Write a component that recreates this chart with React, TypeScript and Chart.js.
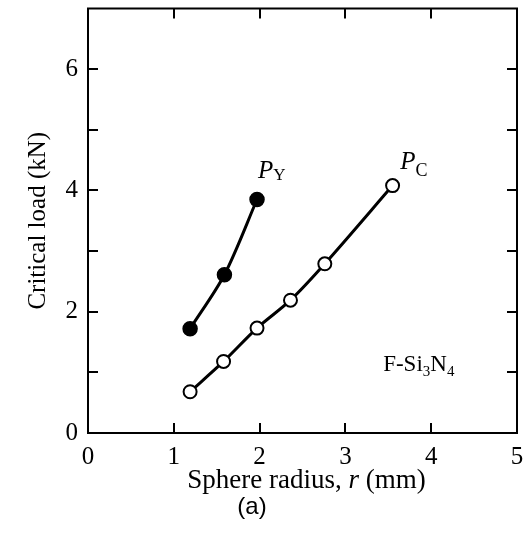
import React, { useEffect, useRef } from "react";
import { Chart, registerables } from "chart.js";

Chart.register(...registerables);

// Data
const radiusPY = [1.19, 1.59, 1.97];
const loadPY = [1.72, 2.61, 3.85];
const radiusPC = [1.19, 1.58, 1.97, 2.36, 2.76, 3.55];
const loadPC = [0.68, 1.18, 1.73, 2.19, 2.79, 4.08];

const xTicks = [0, 1, 2, 3, 4, 5];
const yTicks = [0, 1, 2, 3, 4, 5, 6, 7];
const yLabelValues = [0, 2, 4, 6];

const xTitleParts = ["Sphere radius, ", "r", " (mm)"];
const yTitle = "Critical load (kN)";
const panelLabel = "(a)";

const SERIF = "'Liberation Serif', 'Times New Roman', serif";
const SANS = "'Liberation Sans', Arial, sans-serif";

const decorPlugin = {
  id: "decor",
  afterDraw(chart: any) {
    const ctx = chart.ctx as CanvasRenderingContext2D;
    const xs = chart.scales.x;
    const ys = chart.scales.y;
    const { left, right, top, bottom } = chart.chartArea;
    ctx.save();
    ctx.strokeStyle = "#000";
    ctx.lineWidth = 2;
    ctx.strokeRect(left, top, right - left, bottom - top);
    // inward ticks
    const tl = 10;
    ctx.beginPath();
    xTicks.forEach((v) => {
      if (v <= xs.min || v >= xs.max) return;
      const px = Math.round(xs.getPixelForValue(v));
      ctx.moveTo(px, bottom);
      ctx.lineTo(px, bottom - tl);
      ctx.moveTo(px, top);
      ctx.lineTo(px, top + tl);
    });
    yTicks.forEach((v) => {
      if (v <= ys.min || v >= ys.max) return;
      const py = Math.round(ys.getPixelForValue(v));
      ctx.moveTo(left, py);
      ctx.lineTo(left + tl, py);
      ctx.moveTo(right, py);
      ctx.lineTo(right - tl, py);
    });
    ctx.stroke();

    ctx.fillStyle = "#000";
    ctx.textBaseline = "alphabetic";
    const run = (x: number, y: number, segs: [string, string, number][]) => {
      let cx = x;
      segs.forEach(([t, f, dy]) => {
        ctx.font = f;
        ctx.textAlign = "left";
        ctx.fillText(t, cx, y + dy);
        cx += ctx.measureText(t).width;
      });
      return cx - x;
    };
    // P_Y label
    run(xs.getPixelForValue(1.98), ys.getPixelForValue(4.2), [
      ["P", `italic 25px ${SERIF}`, 0],
      ["Y", `17px ${SERIF}`, 2],
    ]);
    // P_C label
    run(xs.getPixelForValue(3.64), ys.getPixelForValue(4.35), [
      ["P", `italic 25px ${SERIF}`, 0],
      ["C", `18px ${SERIF}`, 7],
    ]);
    // F-Si3N4
    run(xs.getPixelForValue(3.44), ys.getPixelForValue(1.03), [
      ["F-Si", `23px ${SERIF}`, 0],
      ["3", `15px ${SERIF}`, 5],
      ["N", `23px ${SERIF}`, 0],
      ["4", `15px ${SERIF}`, 5],
    ]);

    // x axis title with italic r
    const fonts = [`27px ${SERIF}`, `italic 27px ${SERIF}`, `27px ${SERIF}`];
    let w = 0;
    xTitleParts.forEach((t, i) => {
      ctx.font = fonts[i];
      w += ctx.measureText(t).width;
    });
    const cx = (left + right) / 2 + 4;
    run(cx - w / 2, 488, xTitleParts.map((t, i) => [t, fonts[i], 0] as [string, string, number]));

    // panel label
    ctx.font = `24px ${SANS}`;
    ctx.textAlign = "center";
    ctx.fillText(panelLabel, 252, 514);
    ctx.restore();
  },
};

export default function App() {
  const ref = useRef<HTMLCanvasElement>(null);
  useEffect(() => {
    document.body.style.margin = "0";
    const chart = new Chart(ref.current!, {
      type: "scatter",
      data: {
        datasets: [
          {
            label: "PY",
            data: radiusPY.map((x, i) => ({ x, y: loadPY[i] })),
            showLine: true,
            tension: 0.3,
            borderColor: "#000",
            borderWidth: 3,
            pointRadius: 7,
            pointBackgroundColor: "#000",
            pointBorderColor: "#000",
            pointBorderWidth: 1.5,
          },
          {
            label: "PC",
            data: radiusPC.map((x, i) => ({ x, y: loadPC[i] })),
            showLine: true,
            tension: 0.3,
            borderColor: "#000",
            borderWidth: 3,
            pointRadius: 6.5,
            pointBackgroundColor: "#fff",
            pointBorderColor: "#000",
            pointBorderWidth: 2,
          },
        ],
      },
      options: {
        responsive: false,
        animation: false,
        devicePixelRatio: 1,
        layout: { padding: { left: 0, right: 14, top: 6, bottom: 0 } },
        plugins: { legend: { display: false }, tooltip: { enabled: false } },
        scales: {
          x: {
            type: "linear",
            min: 0,
            max: 5,
            grid: { display: false, drawTicks: false },
            border: { display: false },
            afterBuildTicks: (s: any) => {
              s.ticks = xTicks.map((v) => ({ value: v }));
            },
            afterFit: (s: any) => {
              s.height = 113;
              s.paddingLeft = 0;
              s.paddingRight = 0;
            },
            ticks: {
              color: "#000",
              padding: 9,
              maxRotation: 0,
              font: { family: SERIF, size: 25 },
            },
          },
          y: {
            type: "linear",
            min: 0,
            max: 7,
            grid: { display: false, drawTicks: false },
            border: { display: false },
            afterBuildTicks: (s: any) => {
              s.ticks = yLabelValues.map((v) => ({ value: v }));
            },
            afterFit: (s: any) => {
              s.width = 88;
              s.paddingTop = 0;
              s.paddingBottom = 0;
            },
            title: {
              display: true,
              text: yTitle,
              color: "#000",
              font: { family: SERIF, size: 25 },
              padding: { top: 23, bottom: 0 },
            },
            ticks: {
              color: "#000",
              padding: 10,
              font: { family: SERIF, size: 25 },
            },
          },
        },
      },
      plugins: [decorPlugin],
    });
    return () => chart.destroy();
  }, []);
  return (
    <div style={{ position: "fixed", left: 0, top: 0, width: 531, height: 546, background: "#fff" }}>
      <canvas ref={ref} width={531} height={546} />
    </div>
  );
}
